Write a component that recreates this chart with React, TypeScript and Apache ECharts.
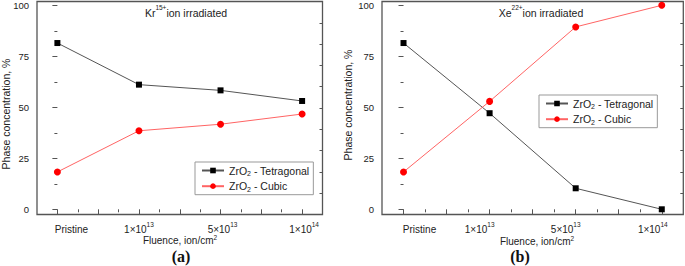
import React, { useEffect, useRef } from 'react';
import * as echarts from 'echarts';

// ---- data ----
const categories = ['Pristine', '1×10^13', '5×10^13', '1×10^14'];
const xLabelBase = ['Pristine', '1×10', '5×10', '1×10'];
const xLabelSup = ['', '13', '13', '14'];
const xLabelValues = [0, 1, 2, 3];
const xMajorTicks = [0, 0.5, 1, 1.5, 2, 2.5, 3];
const xMinorTicks = [0.25, 0.75, 1.25, 1.75, 2.25, 2.75];
const yTicks = [0, 25, 50, 75, 100];
const yMinorTicks = [12.5, 37.5, 62.5, 87.5];
const seriesNames = ['ZrO2 - Tetragonal', 'ZrO2 - Cubic'];
const krTetragonal = [81.5, 61.1, 58.3, 53.1];
const krCubic = [18.3, 38.5, 41.7, 46.7];
const xeTetragonal = [81.5, 47.1, 10.3, 0];
const xeCubic = [18.3, 52.9, 89.4, 100];

// ---- styling / layout ----
const FONT = '"Liberation Sans", Arial, Helvetica, sans-serif';
const SERIF = '"Liberation Serif", "Times New Roman", serif';
const TXT = '#222';
const AXIS = '#555';
const Y_MIN = -2.55;
const Y_MAX = 101.86;

const panels = [
  {
    grid: { left: 37, top: 1.5, width: 285.5, height: 213 },
    shifts: [14, 0, 2, 2],
    title: 'Kr{sup|15+}ion irradiated',
    titleX: 186,
    yNameX: 6,
    yNameY: 114,
    xNameX: 180,
    xNameY: 240.5,
    tag: '(a)',
    tagX: 181,
    legendLeft: 195,
    legendTop: 162,
    data: [krTetragonal, krCubic],
  },
  {
    grid: { left: 382, top: 1.5, width: 301.3, height: 213 },
    shifts: [16, -10, -10, -9],
    title: 'Xe{sup|22+}ion irradiated',
    titleX: 541,
    yNameX: 348,
    yNameY: 105,
    xNameX: 537,
    xNameY: 241.5,
    tag: '(b)',
    tagX: 520,
    legendLeft: 539,
    legendTop: 95,
    data: [xeTetragonal, xeCubic],
  },
];

function supStyle(fill: boolean, h = 1) {
  const s: any = { fontSize: 6.5, fontFamily: FONT, lineHeight: 2, height: h, verticalAlign: 'top' };
  if (fill) s.fill = TXT;
  else s.color = TXT;
  return s;
}

function xLabelRich(shifts: number[]) {
  const rich: Record<string, any> = {};
  xLabelBase.forEach((_, i) => {
    const s = shifts[i];
    const hasSup = xLabelSup[i] !== '';
    rich['m' + i] = {
      fontSize: 10,
      fontFamily: FONT,
      color: TXT,
      lineHeight: 11,
      padding: s > 0 ? [0, 0, 0, 2 * s] : !hasSup && s < 0 ? [0, -2 * s, 0, 0] : 0,
    };
    rich['s' + i] = {
      ...supStyle(false, 2),
      padding: s < 0 ? [0, -2 * s, 0, 0] : 0,
    };
  });
  return rich;
}

function xLabelFormatter(value: number) {
  const i = Math.round(value);
  if (i < 0 || i >= categories.length) return '';
  const sup = xLabelSup[i];
  return sup ? `{m${i}|${xLabelBase[i]}}{s${i}|${sup}}` : `{m${i}|${xLabelBase[i]}}`;
}

function buildOption() {
  const xAxis: any[] = [];
  const yAxis: any[] = [];
  const series: any[] = [];
  const legend: any[] = [];
  const graphic: any[] = [];

  panels.forEach((p, gi) => {
    xAxis.push({
      type: 'value',
      gridIndex: gi,
      min: -0.25,
      max: 3.25,
      position: 'bottom',
      axisLine: { show: false },
      splitLine: { show: false },
      axisTick: { show: true, customValues: xMajorTicks, length: 5, lineStyle: { color: AXIS, width: 1 } },
      axisLabel: {
        show: true,
        customValues: xLabelValues,
        margin: 9,
        formatter: xLabelFormatter,
        rich: xLabelRich(p.shifts),
        fontFamily: FONT,
        color: TXT,
      },
    });
    xAxis.push({
      type: 'value',
      gridIndex: gi,
      min: -0.25,
      max: 3.25,
      position: 'bottom',
      axisLine: { show: false },
      splitLine: { show: false },
      axisLabel: { show: false },
      axisTick: { show: true, customValues: xMinorTicks, length: 3, lineStyle: { color: AXIS, width: 1 } },
    });

    yAxis.push({
      type: 'value',
      gridIndex: gi,
      min: Y_MIN,
      max: Y_MAX,
      position: 'left',
      axisLine: { show: false },
      splitLine: { show: false },
      axisTick: { show: true, customValues: yTicks, length: 5, lineStyle: { color: AXIS, width: 1 } },
      axisLabel: { show: true, customValues: yTicks, fontSize: 9.5, fontFamily: FONT, color: TXT, margin: 8 },
    });
    yAxis.push({
      type: 'value',
      gridIndex: gi,
      min: Y_MIN,
      max: Y_MAX,
      position: 'left',
      axisLine: { show: false },
      splitLine: { show: false },
      axisLabel: { show: false },
      axisTick: { show: true, customValues: yMinorTicks, length: 3, lineStyle: { color: AXIS, width: 1 } },
    });
    yAxis.push({
      type: 'value',
      gridIndex: gi,
      min: 0,
      max: 10,
      interval: 1,
      position: 'right',
      axisLine: { show: false },
      splitLine: { show: false },
      axisLabel: { show: false },
      axisTick: { show: true, inside: true, length: 3, lineStyle: { color: AXIS, width: 1 } },
    });

    p.data.forEach((vals, j) => {
      series.push({
        type: 'line',
        name: seriesNames[j],
        xAxisIndex: gi * 2,
        yAxisIndex: gi * 3,
        data: vals.map((v, i) => [i, v]),
        symbol: j === 0 ? 'rect' : 'circle',
        symbolSize: j === 0 ? 6 : 7,
        itemStyle: { color: j === 0 ? '#000' : '#ff0000' },
        lineStyle: { color: j === 0 ? '#555' : '#ff6464', width: 1 },
        clip: false,
        z: 3 + j,
      });
    });

    legend.push({
      orient: 'vertical',
      left: p.legendLeft,
      top: p.legendTop,
      padding: [2, 4, 2, 6],
      itemGap: 2.7,
      itemWidth: 22,
      itemHeight: 7,
      borderColor: '#999',
      borderWidth: 1,
      selectedMode: false,
      data: seriesNames,
      formatter: (name: string) => name.replace('ZrO2', 'ZrO{sub|2}'),
      textStyle: {
        fontSize: 10.5,
        fontFamily: FONT,
        color: TXT,
        lineHeight: 13,
        rich: {
          sub: { fontSize: 7, fontFamily: FONT, color: TXT, lineHeight: 7, verticalAlign: 'bottom' },
        },
      },
    });

    graphic.push({
      type: 'text',
      x: p.titleX,
      y: 12.7,
      style: {
        text: p.title,
        fontSize: 10.5,
        fontFamily: FONT,
        fill: TXT,
        align: 'center',
        verticalAlign: 'middle',
        lineHeight: 12,
        rich: { sup: supStyle(true, 2) },
      },
    });
    graphic.push({
      type: 'text',
      x: p.yNameX,
      y: p.yNameY,
      rotation: Math.PI / 2,
      style: {
        text: 'Phase concentration, %',
        fontSize: 10.5,
        fontFamily: FONT,
        fill: TXT,
        align: 'center',
        verticalAlign: 'middle',
      },
    });
    graphic.push({
      type: 'text',
      x: p.xNameX,
      y: p.xNameY,
      style: {
        text: 'Fluence, ion/cm{sup|2}',
        fontSize: 10,
        fontFamily: FONT,
        fill: TXT,
        align: 'center',
        verticalAlign: 'middle',
        lineHeight: 10,
        rich: { sup: supStyle(true, 4) },
      },
    });
    graphic.push({
      type: 'text',
      x: p.tagX,
      y: 256.5,
      style: {
        text: p.tag,
        fontSize: 16,
        fontWeight: 'bold',
        fontFamily: SERIF,
        fill: '#111',
        align: 'center',
        verticalAlign: 'middle',
      },
    });
  });

  return {
    animation: false,
    backgroundColor: '#fff',
    grid: panels.map((p) => ({
      ...p.grid,
      show: true,
      borderColor: AXIS,
      borderWidth: 1.3,
      backgroundColor: 'transparent',
      containLabel: false,
      outerBoundsMode: 'none',
    })),
    xAxis,
    yAxis,
    legend,
    series,
    graphic,
  };
}

export default function App() {
  const ref = useRef<HTMLDivElement>(null);
  useEffect(() => {
    if (!ref.current) return;
    const chart = echarts.init(ref.current, undefined, { renderer: 'svg' });
    chart.setOption(buildOption() as any);
    return () => chart.dispose();
  }, []);
  return (
    <div
      ref={ref}
      style={{ position: 'fixed', left: 0, top: 0, width: 685, height: 266, background: '#fff' }}
    />
  );
}
